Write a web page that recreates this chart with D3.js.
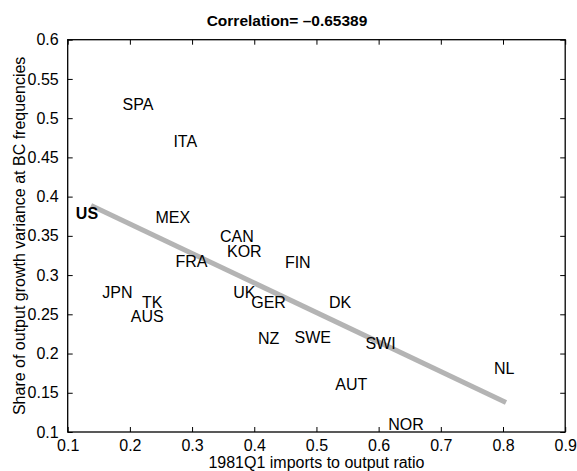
<!DOCTYPE html>
<html>
<head>
<meta charset="utf-8">
<script src="https://cdn.jsdelivr.net/npm/d3@7/dist/d3.min.js"></script>
<style>
  html, body { margin: 0; padding: 0; background: #fff; }
  svg { display: block; font-family: "Liberation Sans", Arial, Helvetica, sans-serif; }
</style>
</head>
<body>
<svg id="chart" width="577" height="471"></svg>
<script>
// Country codes and their coordinates: imports/output ratio (x), BC-frequency variance share (y)
const countries = ["SPA", "ITA", "US", "MEX", "CAN", "KOR", "FRA", "FIN", "JPN", "TK", "UK", "GER", "DK", "AUS",
                   "NZ", "SWE", "SWI", "NL", "AUT", "NOR"];
const importRatio = [0.213, 0.289, 0.131, 0.269, 0.372, 0.384, 0.299, 0.470, 0.180, 0.236, 0.384, 0.423, 0.538, 0.228,
                     0.423, 0.494, 0.603, 0.802, 0.556, 0.644];
const varianceShare = [0.518, 0.471, 0.379, 0.374, 0.350, 0.330, 0.318, 0.316, 0.278, 0.266, 0.278, 0.266, 0.265, 0.248,
                       0.220, 0.221, 0.213, 0.181, 0.161, 0.110];
const boldCountries = ["US"];

// Least-squares fit line endpoints
const fitX = [0.1375, 0.8048];
const fitY = [0.3887, 0.1376];

const xTicks = [0.1, 0.2, 0.3, 0.4, 0.5, 0.6, 0.7, 0.8, 0.9];
const yTicks = [0.1, 0.15, 0.2, 0.25, 0.3, 0.35, 0.4, 0.45, 0.5, 0.55, 0.6];

const titleText = "Correlation= \u20130.65389";
const xLabel = "1981Q1 imports to output ratio";
const yLabel = "Share of output growth variance at BC frequencies";

const svg = d3.select("#chart");
const plotLeft = 67.7, plotRight = 565.2, plotTop = 39.7, plotBottom = 432;

const x = d3.scaleLinear().domain([0.1, 0.9]).range([plotLeft, plotRight]);
const y = d3.scaleLinear().domain([0.1, 0.6]).range([plotBottom, plotTop]);

const fmt = d => String(+d.toFixed(2));
const tickLen = 5;

// Regression line
svg.append("line")
  .attr("x1", x(fitX[0])).attr("y1", y(fitY[0]))
  .attr("x2", x(fitX[1])).attr("y2", y(fitY[1]))
  .attr("stroke", "#b4b4b4")
  .attr("stroke-width", 5)
  .attr("stroke-linecap", "butt");

// Country labels, centred on their points
svg.append("g").selectAll("text")
  .data(countries)
  .join("text")
  .attr("x", (d, i) => x(importRatio[i]))
  .attr("y", (d, i) => y(varianceShare[i]))
  .attr("dy", "0.36em")
  .attr("text-anchor", "middle")
  .attr("font-size", 16)
  .attr("font-weight", d => boldCountries.includes(d) ? "bold" : "normal")
  .attr("fill", "#000")
  .text(d => d);

// Axes with inward ticks on all four sides
const axisStyle = g => {
  g.select(".domain").remove();
  g.selectAll(".tick line").attr("stroke", "#000").attr("stroke-width", 1);
  g.selectAll(".tick text").attr("font-size", 16).attr("fill", "#000")
    .attr("font-family", "Liberation Sans, Arial, sans-serif");
};

svg.append("g")
  .attr("transform", `translate(0,${plotBottom})`)
  .call(d3.axisBottom(x).tickValues(xTicks).tickFormat(fmt).tickSizeInner(-tickLen).tickSizeOuter(0).tickPadding(8))
  .call(axisStyle);

svg.append("g")
  .attr("transform", `translate(0,${plotTop})`)
  .call(d3.axisTop(x).tickValues(xTicks).tickFormat("").tickSizeInner(-tickLen).tickSizeOuter(0))
  .call(axisStyle);

svg.append("g")
  .attr("transform", `translate(${plotLeft},0)`)
  .call(d3.axisLeft(y).tickValues(yTicks).tickFormat(fmt).tickSizeInner(-tickLen).tickSizeOuter(0).tickPadding(9))
  .call(axisStyle);

svg.append("g")
  .attr("transform", `translate(${plotRight},0)`)
  .call(d3.axisRight(y).tickValues(yTicks).tickFormat("").tickSizeInner(-tickLen).tickSizeOuter(0))
  .call(axisStyle);

// Axes box
svg.append("rect")
  .attr("x", plotLeft).attr("y", plotTop)
  .attr("width", plotRight - plotLeft).attr("height", plotBottom - plotTop)
  .attr("fill", "none")
  .attr("stroke", "#000")
  .attr("stroke-width", 1.3);

// Title
svg.append("text")
  .attr("x", 287).attr("y", 26)
  .attr("text-anchor", "middle")
  .attr("font-size", 15.5)
  .attr("font-weight", "bold")
  .text(titleText);

// Axis labels
svg.append("text")
  .attr("x", (plotLeft + plotRight) / 2).attr("y", 468)
  .attr("text-anchor", "middle")
  .attr("font-size", 16)
  .text(xLabel);

svg.append("text")
  .attr("transform", `translate(25,${(plotTop + plotBottom) / 2}) rotate(-90)`)
  .attr("text-anchor", "middle")
  .attr("font-size", 16)
  .text(yLabel);
</script>
</body>
</html>
